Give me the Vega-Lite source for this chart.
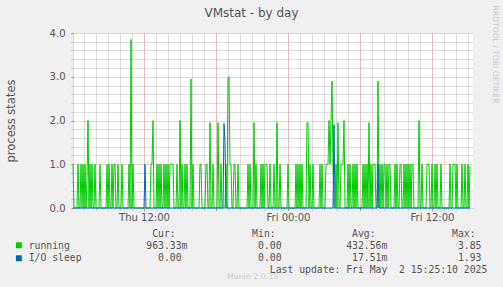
{
 "$schema": "https://vega.github.io/schema/vega-lite/v6.json",
 "width": 400,
 "height": 175,
 "autosize": {"type": "none"},
 "padding": {"left": 73, "top": 33, "right": 30, "bottom": 79},
 "background": "#F0F0F0",
 "config": {"view": {"fill": "#FFFFFF", "stroke": null}, "font": "DejaVu Sans"},
 "title": {"text": "VMstat - by day", "fontSize": 12, "font": "DejaVu Sans", "fontWeight": "normal", "color": "#555555", "anchor": "middle", "dx": -21.5, "dy": 14.5, "offset": 0},
 "data": {"values": [
{"t":0,"r":1,"i":0},{"t":1,"r":0,"i":0},{"t":2,"r":0,"i":0},{"t":3,"r":0,"i":0},{"t":4,"r":0,"i":0},{"t":5,"r":1,"i":0},{"t":6,"r":0,"i":0},{"t":7,"r":0,"i":0},{"t":8,"r":1,"i":0},{"t":9,"r":0,"i":0},
{"t":10,"r":1,"i":0},{"t":11,"r":0,"i":0},{"t":12,"r":1,"i":0},{"t":13,"r":0,"i":0},{"t":14,"r":0.67,"i":0},{"t":15,"r":2,"i":0},{"t":16,"r":0,"i":0},{"t":17,"r":1,"i":0},{"t":18,"r":0,"i":0},{"t":19,"r":1,"i":0},
{"t":20,"r":0,"i":0},{"t":21,"r":0,"i":0},{"t":22,"r":1,"i":0},{"t":23,"r":0,"i":0},{"t":24,"r":0,"i":0},{"t":25,"r":0,"i":0},{"t":26,"r":0,"i":0},{"t":27,"r":1,"i":0},{"t":28,"r":0,"i":0},{"t":29,"r":0,"i":0},
{"t":30,"r":0,"i":0},{"t":31,"r":0,"i":0},{"t":32,"r":0,"i":0},{"t":33,"r":0,"i":0},{"t":34,"r":1,"i":0},{"t":35,"r":0,"i":0},{"t":36,"r":1,"i":0},{"t":37,"r":0,"i":0},{"t":38,"r":0,"i":0},{"t":39,"r":1,"i":0},
{"t":40,"r":0,"i":0},{"t":41,"r":1,"i":0},{"t":42,"r":1,"i":0},{"t":43,"r":0,"i":0},{"t":44,"r":0,"i":0},{"t":45,"r":1,"i":0},{"t":46,"r":0,"i":0},{"t":47,"r":0,"i":0},{"t":48,"r":0,"i":0},{"t":49,"r":1,"i":0},
{"t":50,"r":0,"i":0},{"t":51,"r":0,"i":0},{"t":52,"r":0,"i":0},{"t":53,"r":0,"i":0},{"t":54,"r":0,"i":0},{"t":55,"r":0,"i":0},{"t":56,"r":1,"i":0},{"t":57,"r":0,"i":0},{"t":58,"r":3.85,"i":0},{"t":59,"r":0,"i":0},
{"t":60,"r":1,"i":0},{"t":61,"r":0,"i":0},{"t":62,"r":0,"i":0},{"t":63,"r":0,"i":0},{"t":64,"r":0,"i":0},{"t":65,"r":0,"i":0},{"t":66,"r":0,"i":0},{"t":67,"r":0,"i":0},{"t":68,"r":0,"i":0},{"t":69,"r":0,"i":0},
{"t":70,"r":0,"i":0},{"t":71,"r":0,"i":0},{"t":72,"r":0,"i":1},{"t":73,"r":0,"i":0},{"t":74,"r":0,"i":0},{"t":75,"r":0,"i":0},{"t":76,"r":0,"i":0},{"t":77,"r":0,"i":0},{"t":78,"r":1,"i":0},{"t":79,"r":1,"i":0},
{"t":80,"r":2,"i":0},{"t":81,"r":0,"i":0},{"t":82,"r":0,"i":0},{"t":83,"r":0,"i":0},{"t":84,"r":1,"i":0},{"t":85,"r":0,"i":0},{"t":86,"r":1,"i":0},{"t":87,"r":0,"i":0},{"t":88,"r":1,"i":0},{"t":89,"r":0,"i":0},
{"t":90,"r":0,"i":0},{"t":91,"r":1,"i":0},{"t":92,"r":0,"i":0},{"t":93,"r":1,"i":0},{"t":94,"r":0,"i":0},{"t":95,"r":1,"i":0},{"t":96,"r":0,"i":0},{"t":97,"r":1,"i":0},{"t":98,"r":1,"i":0},{"t":99,"r":1,"i":0},
{"t":100,"r":1,"i":0},{"t":101,"r":0,"i":0},{"t":102,"r":0,"i":0},{"t":103,"r":0,"i":0},{"t":104,"r":1,"i":0},{"t":105,"r":0,"i":0},{"t":106,"r":0,"i":0},{"t":107,"r":2,"i":0},{"t":108,"r":0,"i":0},{"t":109,"r":1,"i":0},
{"t":110,"r":0,"i":0},{"t":111,"r":0,"i":0},{"t":112,"r":1,"i":0},{"t":113,"r":0,"i":0},{"t":114,"r":1,"i":0},{"t":115,"r":0,"i":0},{"t":116,"r":0,"i":0},{"t":117,"r":0,"i":0},{"t":118,"r":2.95,"i":0},{"t":119,"r":0,"i":0},
{"t":120,"r":1,"i":0},{"t":121,"r":0,"i":0},{"t":122,"r":0,"i":0},{"t":123,"r":0,"i":0},{"t":124,"r":0,"i":0},{"t":125,"r":0,"i":0},{"t":126,"r":0,"i":0},{"t":127,"r":1,"i":0},{"t":128,"r":1,"i":0},{"t":129,"r":0,"i":0},
{"t":130,"r":0,"i":0},{"t":131,"r":0,"i":0},{"t":132,"r":0,"i":0},{"t":133,"r":1,"i":0},{"t":134,"r":1,"i":0},{"t":135,"r":0,"i":0},{"t":136,"r":0,"i":0},{"t":137,"r":1.95,"i":0},{"t":138,"r":0,"i":0},{"t":139,"r":0,"i":0},
{"t":140,"r":1,"i":0},{"t":141,"r":0,"i":0},{"t":142,"r":0,"i":0},{"t":143,"r":0,"i":0},{"t":144,"r":0,"i":0},{"t":145,"r":1.95,"i":0},{"t":146,"r":0,"i":0},{"t":147,"r":0,"i":0},{"t":148,"r":1,"i":0},{"t":149,"r":0,"i":0},
{"t":150,"r":0,"i":0},{"t":151,"r":0,"i":1.93},{"t":152,"r":0,"i":1.5},{"t":153,"r":1,"i":0},{"t":154,"r":0,"i":0},{"t":155,"r":2.95,"i":0},{"t":156,"r":3,"i":0},{"t":157,"r":1,"i":0},{"t":158,"r":1,"i":0},{"t":159,"r":0,"i":0},
{"t":160,"r":0,"i":0},{"t":161,"r":1,"i":0},{"t":162,"r":1,"i":0},{"t":163,"r":0,"i":0},{"t":164,"r":0,"i":0},{"t":165,"r":1,"i":0},{"t":166,"r":0,"i":0},{"t":167,"r":0,"i":0},{"t":168,"r":0,"i":0},{"t":169,"r":0,"i":0},
{"t":170,"r":0,"i":0},{"t":171,"r":0,"i":0},{"t":172,"r":0,"i":0},{"t":173,"r":0,"i":0},{"t":174,"r":0,"i":0},{"t":175,"r":1,"i":0},{"t":176,"r":0,"i":0},{"t":177,"r":1,"i":0},{"t":178,"r":0,"i":0},{"t":179,"r":0,"i":0},
{"t":180,"r":0,"i":0},{"t":181,"r":1.95,"i":0},{"t":182,"r":0,"i":0},{"t":183,"r":1,"i":0},{"t":184,"r":0,"i":0},{"t":185,"r":0,"i":0},{"t":186,"r":0,"i":0},{"t":187,"r":0,"i":0},{"t":188,"r":1,"i":0},{"t":189,"r":0,"i":0},
{"t":190,"r":1,"i":0},{"t":191,"r":0,"i":0},{"t":192,"r":1,"i":0},{"t":193,"r":1,"i":0},{"t":194,"r":1,"i":0},{"t":195,"r":0,"i":0},{"t":196,"r":0,"i":0},{"t":197,"r":1,"i":0},{"t":198,"r":0,"i":0},{"t":199,"r":0,"i":0},
{"t":200,"r":0,"i":0},{"t":201,"r":1,"i":0},{"t":202,"r":0,"i":0},{"t":203,"r":0,"i":0},{"t":204,"r":1.95,"i":0},{"t":205,"r":0,"i":0},{"t":206,"r":0,"i":0},{"t":207,"r":1,"i":0},{"t":208,"r":0,"i":0},{"t":209,"r":0,"i":0},
{"t":210,"r":0,"i":0},{"t":211,"r":0,"i":0},{"t":212,"r":0,"i":0},{"t":213,"r":0,"i":0},{"t":214,"r":0,"i":0},{"t":215,"r":1,"i":0},{"t":216,"r":0,"i":0},{"t":217,"r":0,"i":0},{"t":218,"r":0,"i":0},{"t":219,"r":0,"i":0},
{"t":220,"r":0,"i":0},{"t":221,"r":0,"i":0},{"t":222,"r":0,"i":0},{"t":223,"r":1,"i":0},{"t":224,"r":0,"i":0},{"t":225,"r":1,"i":0},{"t":226,"r":0,"i":0},{"t":227,"r":1,"i":0},{"t":228,"r":0,"i":0},{"t":229,"r":1,"i":0},
{"t":230,"r":0,"i":0},{"t":231,"r":0,"i":0},{"t":232,"r":0,"i":0},{"t":233,"r":0,"i":0},{"t":234,"r":1.95,"i":0},{"t":235,"r":1.95,"i":0},{"t":236,"r":0,"i":0},{"t":237,"r":1,"i":0},{"t":238,"r":0,"i":0},{"t":239,"r":0,"i":0},
{"t":240,"r":1,"i":0},{"t":241,"r":0,"i":0},{"t":242,"r":0,"i":0},{"t":243,"r":0,"i":0},{"t":244,"r":0,"i":0},{"t":245,"r":0,"i":0},{"t":246,"r":0,"i":0},{"t":247,"r":1,"i":0},{"t":248,"r":0,"i":0},{"t":249,"r":1,"i":0},
{"t":250,"r":0,"i":0},{"t":251,"r":0,"i":0},{"t":252,"r":0,"i":0},{"t":253,"r":1,"i":0},{"t":254,"r":1,"i":0},{"t":255,"r":1,"i":0},{"t":256,"r":2,"i":0},{"t":257,"r":1,"i":0},{"t":258,"r":2,"i":0},{"t":259,"r":2.9,"i":0},
{"t":260,"r":1,"i":0},{"t":261,"r":0,"i":1.9},{"t":262,"r":0,"i":0},{"t":263,"r":1,"i":0},{"t":264,"r":0,"i":0},{"t":265,"r":1.95,"i":0},{"t":266,"r":0,"i":0},{"t":267,"r":0,"i":0},{"t":268,"r":1,"i":0},{"t":269,"r":1,"i":0},
{"t":270,"r":1,"i":0},{"t":271,"r":2,"i":0},{"t":272,"r":0,"i":0},{"t":273,"r":0,"i":0},{"t":274,"r":0,"i":0},{"t":275,"r":1,"i":0},{"t":276,"r":0,"i":0},{"t":277,"r":1,"i":0},{"t":278,"r":0,"i":0},{"t":279,"r":0,"i":0},
{"t":280,"r":1,"i":0},{"t":281,"r":0,"i":0},{"t":282,"r":1,"i":0},{"t":283,"r":0,"i":0},{"t":284,"r":1,"i":0},{"t":285,"r":0,"i":0},{"t":286,"r":0,"i":0},{"t":287,"r":0,"i":0},{"t":288,"r":0,"i":0},{"t":289,"r":0,"i":0},
{"t":290,"r":1,"i":0},{"t":291,"r":0,"i":0},{"t":292,"r":1,"i":0},{"t":293,"r":0,"i":0},{"t":294,"r":1,"i":0},{"t":295,"r":0,"i":0},{"t":296,"r":1.95,"i":0},{"t":297,"r":0,"i":0},{"t":298,"r":1,"i":0},{"t":299,"r":0,"i":0},
{"t":300,"r":1,"i":0},{"t":301,"r":1,"i":0},{"t":302,"r":1,"i":0},{"t":303,"r":0,"i":0},{"t":304,"r":0,"i":0},{"t":305,"r":2.9,"i":1},{"t":306,"r":0,"i":0},{"t":307,"r":1,"i":0},{"t":308,"r":0,"i":0},{"t":309,"r":1,"i":0},
{"t":310,"r":0,"i":0},{"t":311,"r":1,"i":0},{"t":312,"r":1,"i":0},{"t":313,"r":0,"i":0},{"t":314,"r":1,"i":0},{"t":315,"r":0,"i":0},{"t":316,"r":1,"i":0},{"t":317,"r":1,"i":0},{"t":318,"r":0,"i":0},{"t":319,"r":0,"i":0},
{"t":320,"r":0,"i":0},{"t":321,"r":0,"i":0},{"t":322,"r":1,"i":0},{"t":323,"r":0,"i":0},{"t":324,"r":1,"i":0},{"t":325,"r":0,"i":0},{"t":326,"r":0,"i":0},{"t":327,"r":1,"i":0},{"t":328,"r":1,"i":0},{"t":329,"r":0,"i":0},
{"t":330,"r":0,"i":0},{"t":331,"r":1,"i":0},{"t":332,"r":0,"i":0},{"t":333,"r":1,"i":0},{"t":334,"r":0,"i":0},{"t":335,"r":1,"i":0},{"t":336,"r":0,"i":0},{"t":337,"r":1,"i":0},{"t":338,"r":0,"i":0},{"t":339,"r":1,"i":0},
{"t":340,"r":1,"i":0},{"t":341,"r":0,"i":0},{"t":342,"r":0,"i":0},{"t":343,"r":0,"i":0},{"t":344,"r":0,"i":0},{"t":345,"r":0,"i":0},{"t":346,"r":2,"i":0},{"t":347,"r":0,"i":0},{"t":348,"r":0,"i":0},{"t":349,"r":1,"i":0},
{"t":350,"r":0,"i":0},{"t":351,"r":0,"i":0},{"t":352,"r":0,"i":0},{"t":353,"r":0,"i":0},{"t":354,"r":1,"i":0},{"t":355,"r":1,"i":0},{"t":356,"r":1,"i":0},{"t":357,"r":0,"i":0},{"t":358,"r":0,"i":0},{"t":359,"r":1,"i":0},
{"t":360,"r":0,"i":0},{"t":361,"r":0,"i":0},{"t":362,"r":1,"i":0},{"t":363,"r":0,"i":0},{"t":364,"r":1,"i":0},{"t":365,"r":0,"i":0},{"t":366,"r":0,"i":0},{"t":367,"r":0,"i":0},{"t":368,"r":1,"i":0},{"t":369,"r":0,"i":0},
{"t":370,"r":0,"i":0},{"t":371,"r":0,"i":0},{"t":372,"r":0,"i":0},{"t":373,"r":0,"i":0},{"t":374,"r":0,"i":0},{"t":375,"r":0,"i":0},{"t":376,"r":0,"i":0},{"t":377,"r":1,"i":0},{"t":378,"r":0,"i":0},{"t":379,"r":0,"i":0},
{"t":380,"r":1,"i":0},{"t":381,"r":1,"i":0},{"t":382,"r":1,"i":0},{"t":383,"r":0,"i":0},{"t":384,"r":1,"i":0},{"t":385,"r":0,"i":0},{"t":386,"r":0,"i":0},{"t":387,"r":0,"i":0},{"t":388,"r":0,"i":0},{"t":389,"r":1,"i":0},
{"t":390,"r":0,"i":0},{"t":391,"r":0,"i":0},{"t":392,"r":1,"i":0},{"t":393,"r":0,"i":0},{"t":394,"r":0,"i":0},{"t":395,"r":1,"i":0},{"t":396,"r":0,"i":0},{"t":397,"r":0.96,"i":0}
 ]},
 "layer": [
  {
   "mark": {"type": "line", "strokeWidth": 1, "interpolate": "linear"},
   "encoding": {
    "x": {"field": "t", "type": "quantitative", "scale": {"domain": [0, 400], "nice": false, "zero": false},
     "axis": {"orient": "bottom", "values": [11,23,35,47,59,71,83,95,107,119,131,143,155,167,179,191,203,215,227,239,251,263,275,287,299,311,323,335,347,359,371,383,395], "grid": true, "gridColor": "#BBBBBB", "gridDash": [1,1], "gridWidth": 1, "ticks": true, "tickSize": 2, "tickColor": "#BBBBBB", "labels": false, "domain": true, "domainColor": "#CFD6F8", "domainWidth": 1, "title": null}},
    "y": {"field": "r", "type": "quantitative", "scale": {"domain": [0, 4], "nice": false},
     "axis": {"orient": "left", "values": [0.2,0.4,0.6,0.8,1.2,1.4,1.6,1.8,2.2,2.4,2.6,2.8,3.2,3.4,3.6,3.8], "grid": true, "gridColor": "#BBBBBB", "gridDash": [1,1], "gridWidth": 1, "ticks": true, "tickSize": 2, "tickColor": "#BBBBBB", "labels": false, "domain": true, "domainColor": "#CFD6F8", "domainWidth": 1, "title": null}},
    "color": {"datum": "running", "type": "nominal",
     "scale": {"domain": ["running", "I/O sleep"], "range": ["#00CC00", "#0066B3"]},
     "legend": {"orient": "none", "legendX": -59, "legendY": 206, "title": null, "symbolType": "square", "symbolSize": 2, "symbolStrokeWidth": 4.5, "labelExpr": "''", "labelFontSize": 9.77, "clipHeight": 12.4, "rowPadding": 0, "padding": 0}}
   }
  },
  {
   "mark": {"type": "line", "strokeWidth": 1, "interpolate": "linear"},
   "encoding": {
    "x": {"field": "t", "type": "quantitative",
     "axis": {"orient": "bottom", "values": [71,143,215,287,359], "grid": true, "gridColor": "#E8A0A0", "gridDash": [1,1], "gridWidth": 1, "ticks": true, "tickSize": 2, "tickColor": "#E06060", "labels": false, "domain": false, "title": null}},
    "y": {"field": "i", "type": "quantitative",
     "axis": {"orient": "left", "values": [0,1,2,3,4], "grid": true, "gridColor": "#E8A0A0", "gridDash": [1,1], "gridWidth": 1, "ticks": true, "tickSize": 2, "tickColor": "#E06060", "labels": true, "format": ".1f", "labelFont": "DejaVu Sans", "labelFontSize": 10, "labelColor": "#555555", "labelPadding": 6, "labelFlush": false, "labelOverlap": false, "domain": false,
      "title": "process states", "titleX": -62, "titleY": 87.5, "titleAngle": -90, "titleAlign": "center", "titleBaseline": "middle", "titleFont": "DejaVu Sans", "titleFontSize": 11.5, "titleFontWeight": "normal", "titleColor": "#555555"}},
    "color": {"datum": "I/O sleep", "type": "nominal"}
   }
  },
  {
   "mark": {"type": "line", "strokeWidth": 1, "strokeOpacity": 0},
   "encoding": {
    "x": {"field": "t", "type": "quantitative",
     "axis": {"orient": "bottom", "values": [71,215,359], "labelExpr": "datum.value == 71 ? 'Thu 12:00' : datum.value == 215 ? 'Fri 00:00' : 'Fri 12:00'", "labelFont": "DejaVu Sans", "labelFontSize": 10, "labelColor": "#555555", "labelPadding": 4, "labelFlush": false, "labelOverlap": false, "ticks": false, "tickSize": 0, "domain": false, "grid": false,
      "title": ["\u200b\u00a0\u00a0\u00a0\u00a0\u00a0\u00a0\u00a0\u00a0\u00a0\u00a0\u00a0\u00a0\u00a0\u00a0\u00a0\u00a0\u00a0\u00a0\u00a0\u00a0\u00a0Cur:\u00a0\u00a0\u00a0\u00a0\u00a0\u00a0\u00a0\u00a0\u00a0\u00a0\u00a0\u00a0\u00a0Min:\u00a0\u00a0\u00a0\u00a0\u00a0\u00a0\u00a0\u00a0\u00a0\u00a0\u00a0\u00a0\u00a0Avg:\u00a0\u00a0\u00a0\u00a0\u00a0\u00a0\u00a0\u00a0\u00a0\u00a0\u00a0\u00a0\u00a0Max:",
                "running\u00a0\u00a0\u00a0\u00a0\u00a0\u00a0\u00a0\u00a0\u00a0\u00a0\u00a0\u00a0\u00a0963.33m\u00a0\u00a0\u00a0\u00a0\u00a0\u00a0\u00a0\u00a0\u00a0\u00a0\u00a0\u00a00.00\u00a0\u00a0\u00a0\u00a0\u00a0\u00a0\u00a0\u00a0\u00a0\u00a0\u00a0432.56m\u00a0\u00a0\u00a0\u00a0\u00a0\u00a0\u00a0\u00a0\u00a0\u00a0\u00a0\u00a03.85",
                "I/O\u00a0sleep\u00a0\u00a0\u00a0\u00a0\u00a0\u00a0\u00a0\u00a0\u00a0\u00a0\u00a0\u00a0\u00a00.00\u00a0\u00a0\u00a0\u00a0\u00a0\u00a0\u00a0\u00a0\u00a0\u00a0\u00a0\u00a0\u00a00.00\u00a0\u00a0\u00a0\u00a0\u00a0\u00a0\u00a0\u00a0\u00a0\u00a0\u00a0\u00a017.51m\u00a0\u00a0\u00a0\u00a0\u00a0\u00a0\u00a0\u00a0\u00a0\u00a0\u00a0\u00a01.93",
                "\u200b\u00a0\u00a0\u00a0\u00a0\u00a0\u00a0\u00a0\u00a0\u00a0\u00a0\u00a0\u00a0\u00a0\u00a0\u00a0\u00a0\u00a0\u00a0\u00a0\u00a0\u00a0\u00a0\u00a0\u00a0\u00a0\u00a0\u00a0\u00a0\u00a0\u00a0\u00a0\u00a0\u00a0\u00a0\u00a0\u00a0\u00a0\u00a0\u00a0\u00a0\u00a0Last\u00a0update:\u00a0Fri\u00a0May\u00a0\u00a02\u00a015:25:10\u00a02025"],
      "titleFont": "DejaVu Sans Mono", "titleFontSize": 9.77, "titleFontWeight": "normal", "titleColor": "#555555", "titleAlign": "left", "titleBaseline": "alphabetic", "titleX": -44.8, "titleY": 28.6, "titleLineHeight": 12.1}},
    "y": {"field": "i", "type": "quantitative",
     "axis": {"orient": "right", "labels": false, "ticks": false, "domain": false, "grid": false,
      "title": "RRDTOOL / TOBI OETIKER", "titleAngle": 90, "titleX": 21, "titleY": 21, "titleAlign": "center", "titleBaseline": "middle", "titleFont": "DejaVu Sans", "titleFontSize": 7.6, "titleFontWeight": "normal", "titleColor": "#C8C8C8"}}
   }
  },
  {
   "mark": {"type": "line", "strokeWidth": 1, "strokeOpacity": 0},
   "encoding": {
    "x": {"field": "t", "type": "quantitative",
     "axis": {"orient": "bottom", "labels": false, "ticks": false, "domain": false, "grid": false,
      "title": "Munin 2.0.33", "titleX": 179, "titleY": 68, "titleAlign": "center", "titleBaseline": "middle", "titleFont": "DejaVu Sans", "titleFontSize": 7.8, "titleFontWeight": "normal", "titleColor": "#CCCCCC"}},
    "y": {"field": "i", "type": "quantitative", "axis": null}
   }
  }
 ],
 "resolve": {"axis": {"x": "independent", "y": "independent"}}
}
